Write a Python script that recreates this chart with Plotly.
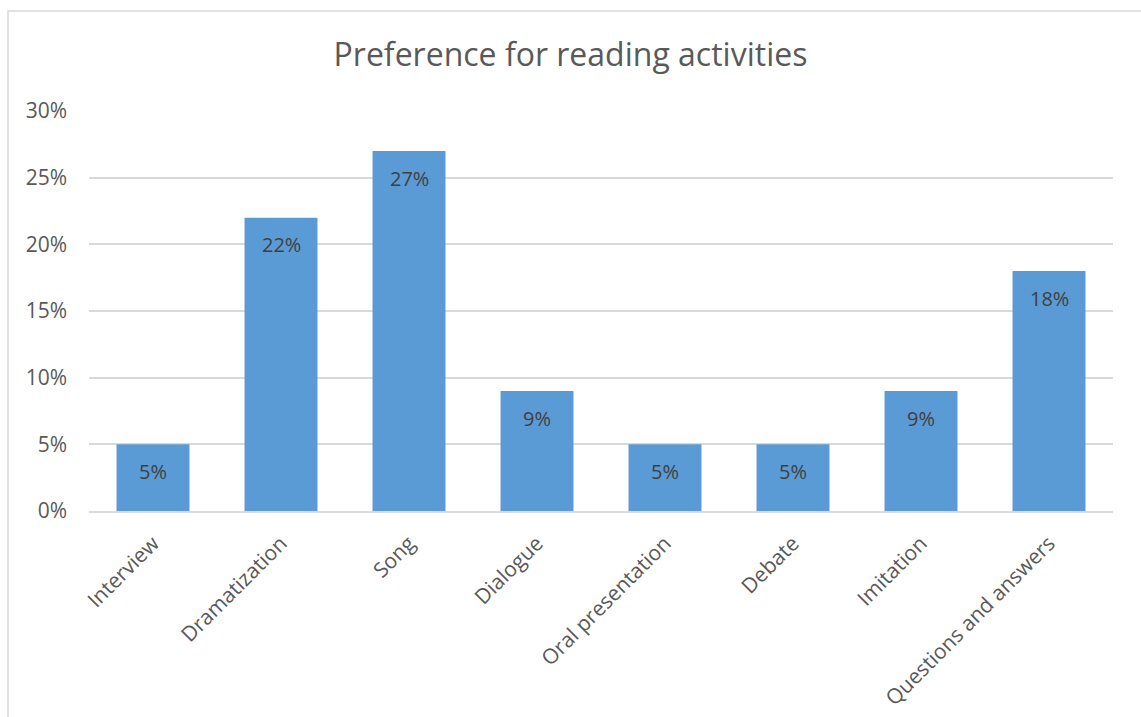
import plotly.graph_objects as go

# Survey results: share of respondents preferring each reading activity
activities = ["Interview", "Dramatization", "Song", "Dialogue",
              "Oral presentation", "Debate", "Imitation", "Questions and answers"]
shares = [0.05, 0.22, 0.27, 0.09, 0.05, 0.05, 0.09, 0.18]
y_ticks = [0, 0.05, 0.10, 0.15, 0.20, 0.25, 0.30]

FONT = "Open Sans"
BAR = "#5B9BD5"
GRID = "#D9D9D9"
TEXT = "#595959"

fig = go.Figure(go.Bar(
    x=activities,
    y=shares,
    marker=dict(color=BAR, line=dict(width=0)),
    hoverinfo="skip",
))

# value labels sit just inside the top of each bar
for name, val in zip(activities, shares):
    fig.add_annotation(
        x=name, y=val, text=f"{val*100:.0f}%",
        showarrow=False, yanchor="middle", yshift=-27,
        font=dict(family=FONT, size=20, color="#404040"),
    )

# light chart-area frame
fig.add_shape(type="rect", xref="paper", yref="paper",
              x0=-0.0791, x1=1.3, y0=-1.0, y1=1.25,
              line=dict(color=GRID, width=1.5), fillcolor="rgba(0,0,0,0)", layer="below")

fig.update_layout(
    width=1141, height=717,
    margin=dict(l=89, r=28, t=111, b=206, autoexpand=False),
    paper_bgcolor="white", plot_bgcolor="white",
    bargap=0.43,
    showlegend=False,
    title=dict(text="Preference for reading activities", x=0.5, xanchor="center",
               y=1 - 55 / 717, yanchor="middle", yref="container",
               font=dict(family=FONT, size=32, color=TEXT)),
    xaxis=dict(tickangle=-45, tickfont=dict(family=FONT, size=21, color=TEXT),
               showgrid=False, showline=True, linecolor=GRID, linewidth=1.5,
               ticks="", ticklabelstandoff=10, automargin=False),
    yaxis=dict(range=[0, 0.30], tickvals=y_ticks, tickformat=".0%",
               tickfont=dict(family=FONT, size=21, color=TEXT),
               showgrid=True, gridcolor=GRID, gridwidth=1.5,
               zeroline=False, showline=False, ticks="",
               ticklabelstandoff=21, automargin=False),
)

fig.write_html("out.html")
